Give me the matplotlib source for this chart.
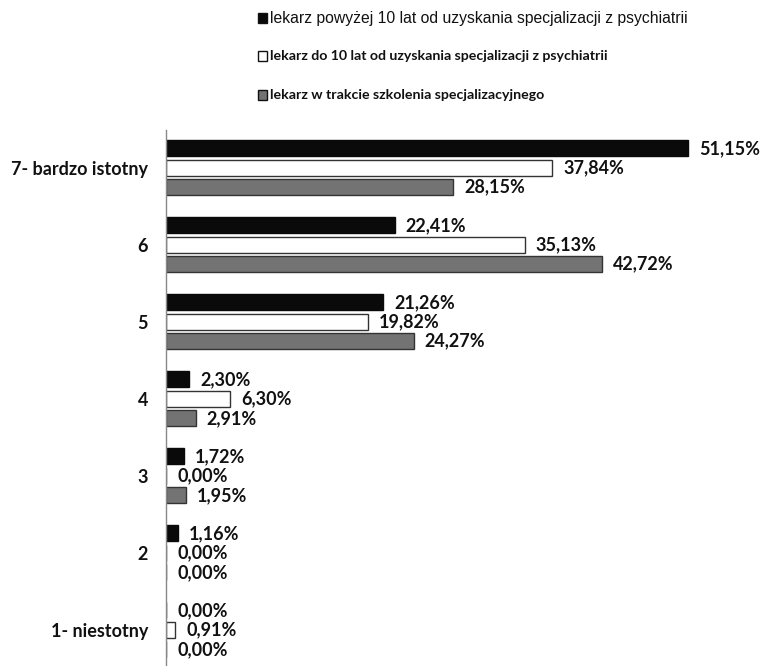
import matplotlib
matplotlib.use("Agg")
import matplotlib.pyplot as plt
import numpy as np

categories = ["1- niestotny", "2", "3", "4", "5", "6", "7- bardzo istotny"]
series_names = [
    "lekarz powyżej 10 lat od uzyskania specjalizacji z psychiatrii",
    "lekarz do 10 lat od uzyskania specjalizacji z psychiatrii",
    "lekarz w trakcie szkolenia specjalizacyjnego",
]
over10 = [0.00, 1.16, 1.72, 2.30, 21.26, 22.41, 51.15]
upto10 = [0.91, 0.00, 0.00, 6.30, 19.82, 35.13, 37.84]
training = [0.00, 0.00, 1.95, 2.91, 24.27, 42.72, 28.15]

series = [over10, upto10, training]
fills = ["#0a0a0a", "#ffffff", "#737373"]
edges = ["#0a0a0a", "#333333", "#333333"]

fig = plt.figure(figsize=(7.65, 6.66), dpi=100)
ax = fig.add_axes([166 / 765, 0, (758 - 166) / 765, 1 - 130 / 666])

y = np.arange(len(categories))
h = 0.205
step = 0.253
offsets = [step, 0, -step]

for vals, fc, ec, off in zip(series, fills, edges, offsets):
    ax.barh(y + off, vals, height=h, color=fc, edgecolor=ec, linewidth=1.0)
    for yi, v in zip(y, vals):
        ax.annotate(f"{v:.2f}%".replace(".", ","), xy=(v, yi + off),
                    xytext=(11, 0), textcoords="offset pixels",
                    va="center", ha="left", fontsize=13, fontweight="bold",
                    family="Lato", color="#111111")

ax.set_xlim(0, 58)
ax.set_ylim(-0.47, 6.49)
ax.set_yticks(y)
ax.set_yticklabels(categories, fontsize=13, family="Lato", fontweight="bold", color="#111111")
ax.tick_params(axis="y", length=0, pad=13)
ax.set_xticks([])
for s in ["top", "right", "bottom"]:
    ax.spines[s].set_visible(False)
ax.spines["left"].set_color("#888888")
ax.spines["left"].set_linewidth(1.0)

# legend entries stacked above the plot
legend_y = [18, 56, 95]
legend_fonts = [("Liberation Sans", "normal", 11.3), ("Lato", "bold", 10.2), ("Lato", "bold", 10.2)]
for name, fc, ec, ly, (fam, fw, fs) in zip(series_names, fills, edges, legend_y, legend_fonts):
    fig.patches.append(plt.Rectangle((258 / 765, 1 - (ly + 5) / 666), 9 / 765, 10 / 666,
                                     transform=fig.transFigure, facecolor=fc,
                                     edgecolor="#111111", linewidth=1.0))
    fig.text(270 / 765, 1 - ly / 666, name, fontsize=fs,
             family=fam, fontweight=fw, va="center", ha="left", color="#111111")

fig.savefig("out.png", dpi=100)
